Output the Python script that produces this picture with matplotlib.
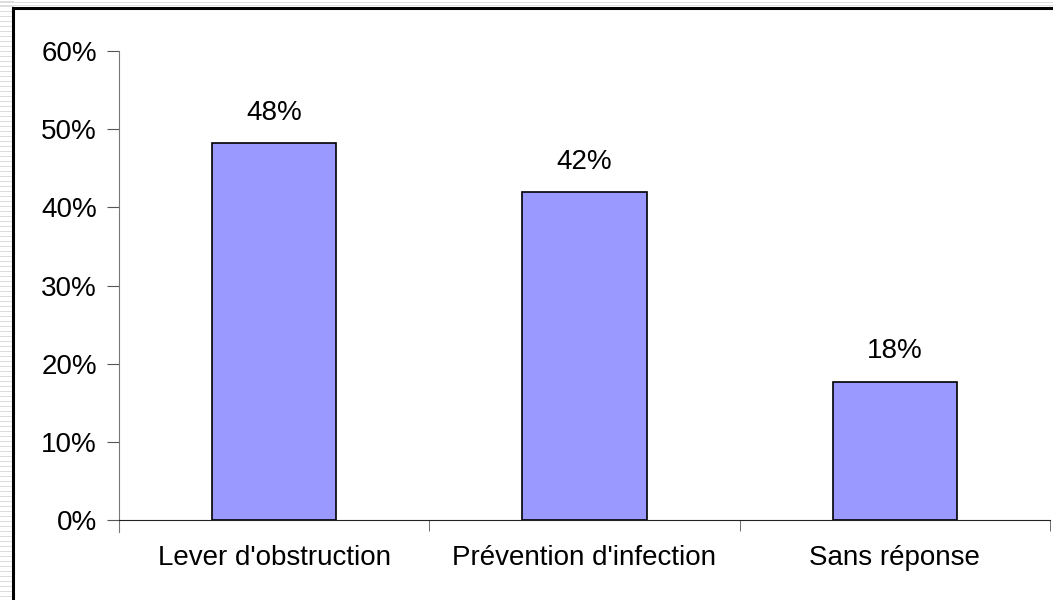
import matplotlib
matplotlib.use("Agg")
import matplotlib.pyplot as plt
from matplotlib.patches import Rectangle
from matplotlib.lines import Line2D

categories = ["Lever d'obstruction", "Prévention d'infection", "Sans réponse"]
values = [48.2, 42.0, 17.7]
labels = ["48%", "42%", "18%"]
yticks = [0, 10, 20, 30, 40, 50, 60]

plt.rcParams['font.family'] = ['Liberation Sans', 'DejaVu Sans']

fig = plt.figure(figsize=(10.53, 6), dpi=100)
fig.patch.set_facecolor('white')

# striped background outside the frame
for y in range(1, 600, 5):
    fig.add_artist(Line2D([0, 13/1053], [1 - y/600, 1 - y/600], transform=fig.transFigure,
                          color='#dcdcdc', lw=0.7, zorder=-3))
fig.add_artist(Line2D([0, 1], [1 - 1.5/600, 1 - 1.5/600], transform=fig.transFigure, color='#dcdcdc', lw=0.7, zorder=-3))
fig.add_artist(Line2D([0, 1], [1 - 5/600, 1 - 5/600], transform=fig.transFigure, color='#dcdcdc', lw=0.7, zorder=-3))
# black frame
fig.add_artist(Rectangle((13/1053, -0.01), 1.0, 1 - 8/600 + 0.01, transform=fig.transFigure,
                         facecolor='white', edgecolor='black', lw=2.2, zorder=-2))

ax = fig.add_axes([119/1053, 80/600, 931/1053, 469/600])
ax.set_facecolor('none')
x = list(range(len(categories)))
ax.bar(x, values, width=0.4, color='#9999FF', edgecolor='black', linewidth=1.2, zorder=3)
for xi, v, lab in zip(x, values, labels):
    ax.text(xi, v + 2.2, lab, ha='center', va='bottom', fontsize=20)

ax.set_xlim(-0.5, len(categories) - 0.5)
ax.set_ylim(0, 60)
ax.set_yticks(yticks)
ax.set_yticklabels([f"{t}%" for t in yticks], fontsize=20)
ax.set_xticks(x)
ax.set_xticklabels(categories, fontsize=20)
ax.tick_params(axis='x', length=0, pad=18)
ax.set_xticks([-0.5, 0.5, 1.5, 2.5], minor=True)
ax.tick_params(axis='x', which='minor', length=8, color='#555555', direction='out')
ax.tick_params(axis='y', length=9, color='#555555', direction='out', pad=7)
for s in ['top', 'right']:
    ax.spines[s].set_visible(False)
ax.spines['left'].set_color('#777777')
ax.spines['bottom'].set_color('#222222')
ax.spines['left'].set_bounds(-1.5, 60)
ax.spines['left'].set_clip_on(False)

fig.savefig('out.png', dpi=100)
